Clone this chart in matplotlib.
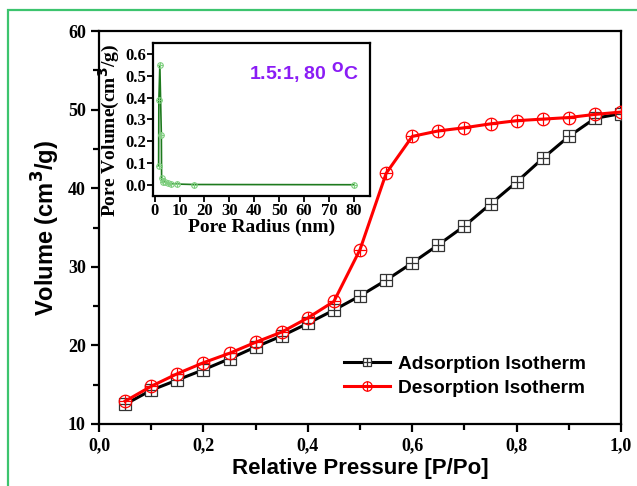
import matplotlib
matplotlib.use("Agg")
import matplotlib.pyplot as plt
import matplotlib.patches as patches
from matplotlib.ticker import MultipleLocator, FuncFormatter
from matplotlib.legend_handler import HandlerTuple

# relative pressure (P/Po)
pressure = [0.05, 0.10, 0.15, 0.20, 0.25, 0.30, 0.35, 0.40, 0.45, 0.50,
            0.55, 0.60, 0.65, 0.70, 0.75, 0.80, 0.85, 0.90, 0.95, 1.00]
adsorption = [12.5, 14.3, 15.6, 16.9, 18.3, 19.8, 21.2, 22.8, 24.5, 26.3,
              28.3, 30.5, 32.8, 35.2, 38.0, 40.8, 43.8, 46.6, 48.9, 49.5]
desorption = [12.9, 14.8, 16.4, 17.8, 19.0, 20.4, 21.7, 23.5, 25.6, 32.2,
              41.9, 46.6, 47.3, 47.7, 48.2, 48.6, 48.8, 49.0, 49.4, 49.7]

# inset: pore size distribution
pore_radius = [1.6, 1.7, 2.1, 2.7, 2.8, 3.4, 4.3, 5.2, 6.4, 9.0, 15.7, 80.0]
pore_volume = [0.087, 0.387, 0.548, 0.23, 0.03, 0.015, 0.012, 0.008, 0.004, 0.004, 0.002, 0.001]

serif = "Liberation Serif"
sans = "Liberation Sans"

fig = plt.figure(figsize=(6.37, 4.86), dpi=100)

# green frame around the figure (runs off the right and bottom edges)
fig.patches.append(patches.Rectangle((8/637, -0.1), 1.2, 1.1 - 10/486,
                                     transform=fig.transFigure, fill=False,
                                     edgecolor="#3cc46e", linewidth=1.6))

ax = fig.add_axes([0.1554, 0.1276, 0.8196, 0.8084])

la, = ax.plot(pressure, adsorption, color="black", lw=2.2, marker="s", ms=8,
              mfc="white", mec="#333333", mew=0.9, zorder=3)
pa, = ax.plot(pressure, adsorption, ls="none", marker="+", ms=8, mec="#333333", mew=0.9, zorder=4)
ld, = ax.plot(pressure, desorption, color="red", lw=2.2, marker="o", ms=9,
              mfc="none", mec="red", mew=0.9, zorder=5)
pd_, = ax.plot(pressure, desorption, ls="none", marker="+", ms=9, mec="red", mew=0.9, zorder=6)

ax.set_xlim(0, 1.0)
ax.set_ylim(10, 60)
ax.xaxis.set_major_locator(MultipleLocator(0.2))
ax.xaxis.set_minor_locator(MultipleLocator(0.1))
ax.yaxis.set_major_locator(MultipleLocator(10))
ax.yaxis.set_minor_locator(MultipleLocator(5))
ax.xaxis.set_major_formatter(FuncFormatter(lambda v, p: f"{v:.1f}".replace(".", ",")))
for s in ax.spines.values():
    s.set_linewidth(1.6)
ax.tick_params(which="major", length=6, width=1.6, direction="out")
ax.tick_params(which="minor", length=4, width=1.6, direction="out")
for lab in ax.get_xticklabels() + ax.get_yticklabels():
    lab.set_fontfamily(serif)
    lab.set_fontweight("bold")
    lab.set_fontsize(13)

ax.set_xlabel("Relative Pressure [P/Po]", fontfamily=sans, fontweight="bold", fontsize=16, labelpad=3)
ax.set_ylabel("Volume (cm$^\\mathbf{3}$/g)", fontfamily=sans, fontweight="bold", fontsize=17, labelpad=4)

ax.legend([(la, pa), (ld, pd_)], ["Adsorption Isotherm", "Desorption Isotherm"],
          handler_map={tuple: HandlerTuple(ndivide=1)},
          loc="lower right", frameon=False, bbox_to_anchor=(0.955, 0.04),
          prop={"family": sans, "weight": "bold", "size": 13.8}, markerscale=0.75,
          handlelength=2.4, handletextpad=0.4, labelspacing=0.35, borderaxespad=0.2)

# inset
axi = fig.add_axes([0.240, 0.597, 0.341, 0.3145])
axi.plot(pore_radius, pore_volume, color="#1e7a1e", lw=1.2, marker="o", ms=4,
         mfc="none", mec="#7fcf7f", mew=0.8)
axi.plot(pore_radius, pore_volume, ls="none", marker="+", ms=4, mec="#7fcf7f", mew=0.8)
axi.set_xlim(-0.7, 86.5)
axi.set_ylim(-0.05, 0.65)
axi.xaxis.set_major_locator(MultipleLocator(10))
axi.yaxis.set_major_locator(MultipleLocator(0.1))
for s in axi.spines.values():
    s.set_linewidth(1.6)
axi.tick_params(length=4, width=1.3, direction="out", pad=1)
for lab in axi.get_xticklabels() + axi.get_yticklabels():
    lab.set_fontfamily(serif)
    lab.set_fontweight("bold")
    lab.set_fontsize(12)
axi.set_xlabel("Pore Radius (nm)", fontfamily=serif, fontweight="bold", fontsize=14, labelpad=0)
axi.set_ylabel("Pore Volume(cm$^\\mathbf{3}$/g)", fontfamily=serif, fontweight="bold", fontsize=14, labelpad=1)
axi.yaxis.set_label_coords(-0.14, 0.43)
axi.text(0.95, 0.81, "1.5:1, 80 $^\\mathbf{O}$C", transform=axi.transAxes, ha="right", va="center",
         color="#8a1cf5", fontfamily=sans, fontweight="bold", fontsize=14)

fig.savefig("out.png", dpi=100)
